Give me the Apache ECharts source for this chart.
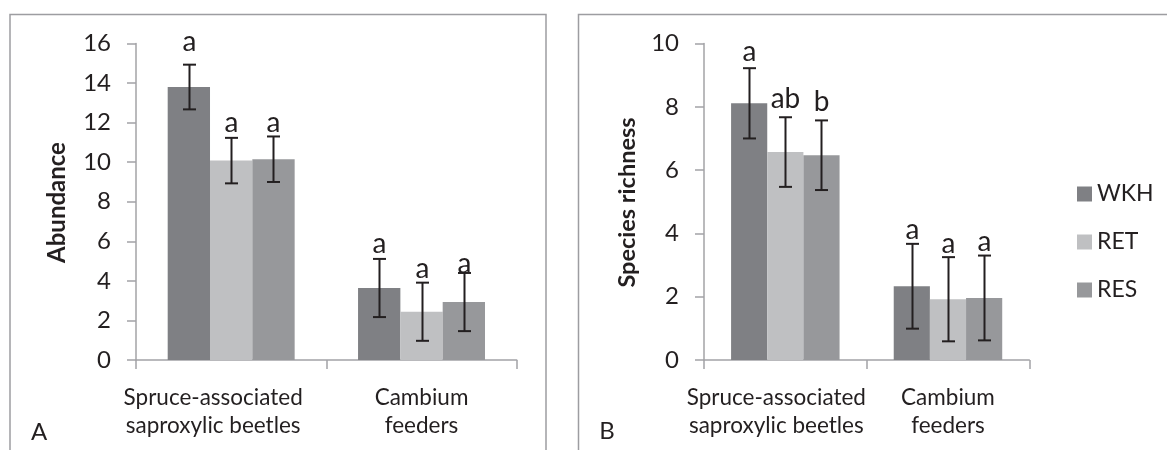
<!DOCTYPE html>
<html>
<head>
<meta charset="utf-8">
<style>
html,body{margin:0;padding:0;background:#fff;}
#chart{width:1167px;height:450px;}
</style>
<script src="https://cdn.jsdelivr.net/npm/echarts@6.0.0/dist/echarts.min.js"></script>
</head>
<body>
<div id="chart"></div>
<script>
// ---- data ----
const categories = ['Spruce-associated\nsaproxylic beetles', 'Cambium\nfeeders'];
const seriesNames = ['WKH', 'RET', 'RES'];
const abundanceTicks = [0, 2, 4, 6, 8, 10, 12, 14, 16];
const richnessTicks = [0, 2, 4, 6, 8, 10];

// Panel A: Abundance
const abundWKH = [13.8, 3.64];
const abundRET = [10.08, 2.44];
const abundRES = [10.15, 2.93];
const abundErrWKH = [1.13, 1.47];
const abundErrRET = [1.15, 1.47];
const abundErrRES = [1.15, 1.47];
const abundLettersWKH = ['a', 'a'];
const abundLettersRET = ['a', 'a'];
const abundLettersRES = ['a', 'a'];
const abundLetterPosWKH = [15.93, 5.71];
const abundLetterPosRET = [11.83, 4.46];
const abundLetterPosRES = [11.83, 4.70];

// Panel B: Species richness
const richWKH = [8.11, 2.33];
const richRET = [6.57, 1.92];
const richRES = [6.47, 1.96];
const richErrWKH = [1.11, 1.34];
const richErrRET = [1.10, 1.33];
const richErrRES = [1.10, 1.34];
const richLettersWKH = ['a', 'a'];
const richLettersRET = ['ab', 'a'];
const richLettersRES = ['b', 'a'];
const richLetterPosWKH = [9.63, 4.02];
const richLetterPosRET = [8.14, 3.58];
const richLetterPosRES = [8.07, 3.64];

// ---- styling ----
const FONT = 'Lato';
const colors = ['#7f8084', '#bfc0c2', '#97989b'];
const axisGray = '#a3a3a6';
const textColor = '#231f20';
const CAT_GAP = 0.333;

const chart = echarts.init(document.getElementById('chart'), null, {renderer: 'canvas'});

function makeErrSeries(gridIdx, sIdx, vals, errs, letters, lpos) {
  return {
    type: 'custom',
    name: 'err' + seriesNames[sIdx] + gridIdx,
    xAxisIndex: gridIdx, yAxisIndex: gridIdx,
    z: 10, clip: false, silent: true,
    data: vals.map((v, i) => [i, v, errs[i], lpos[i]]),
    renderItem: function (params, api) {
      const cat = api.value(0), v = api.value(1), e = api.value(2), lp = api.value(3);
      const cw = api.size([1, 0])[0];
      const bw = cw * (1 - CAT_GAP) / 3;
      const off = (sIdx - 1) * bw;
      const top = api.coord([cat, v + e]);
      const bot = api.coord([cat, v - e]);
      const lpt = api.coord([cat, lp]);
      const x = Math.round(top[0] + off) + 0.5;
      const cap = 6.5;
      const ls = {stroke: textColor, lineWidth: 2};
      return {
        type: 'group',
        children: [
          {type: 'line', shape: {x1: x, y1: top[1], x2: x, y2: bot[1]}, style: ls},
          {type: 'line', shape: {x1: x - cap, y1: top[1], x2: x + cap, y2: top[1]}, style: ls},
          {type: 'line', shape: {x1: x - cap, y1: bot[1], x2: x + cap, y2: bot[1]}, style: ls},
          {type: 'text', x: x, y: lpt[1] - 3,
            style: {text: letters[params.dataIndex], fill: textColor, font: '28px ' + FONT,
              align: 'center', verticalAlign: 'middle'}}
        ]
      };
    }
  };
}

function barSeries(gridIdx, sIdx, vals) {
  return {
    type: 'bar', name: seriesNames[sIdx],
    xAxisIndex: gridIdx, yAxisIndex: gridIdx,
    data: vals,
    barGap: '0%', barCategoryGap: (CAT_GAP * 100) + '%',
    itemStyle: {color: colors[sIdx]},
    silent: true
  };
}

function xAxisCfg(gridIdx, shift) {
  return {
    type: 'category', gridIndex: gridIdx, data: categories,
    axisLine: {lineStyle: {color: axisGray, width: 1.5}},
    axisTick: {show: true, length: 9, lineStyle: {color: axisGray, width: 1.5}},
    axisLabel: {
      interval: 0, margin: 23,
      formatter: function (value, idx) {
        const key = idx === 0 ? 's' : 'c';
        return value.split('\n').map(l => '{' + key + '|' + l + '}').join('\n');
      },
      rich: {
        s: {fontFamily: FONT, fontSize: 22.5, lineHeight: 28.5, color: textColor, padding: [0, shift, 0, 0]},
        c: {fontFamily: FONT, fontSize: 22.5, lineHeight: 28.5, color: textColor}
      }
    }
  };
}

function yAxisCfg(gridIdx, ticks) {
  return {
    type: 'value', gridIndex: gridIdx,
    min: ticks[0], max: ticks[ticks.length - 1], interval: ticks[1] - ticks[0],
    splitLine: {show: false},
    axisLine: {show: true, lineStyle: {color: axisGray, width: 1.5}},
    axisTick: {show: true, length: 9, lineStyle: {color: axisGray, width: 1.5}},
    axisLabel: {fontFamily: FONT, fontSize: 24, color: textColor, margin: 25}
  };
}

const option = {
  animation: false,
  backgroundColor: '#ffffff',
  grid: [
    {left: 136, right: 1167 - 516.7, top: 43.5, bottom: 90},
    {left: 704, right: 1167 - 1029.3, top: 43.5, bottom: 90}
  ],
  xAxis: [xAxisCfg(0, 36), xAxisCfg(1, 18)],
  yAxis: [yAxisCfg(0, abundanceTicks), yAxisCfg(1, richnessTicks)],
  legend: {
    data: seriesNames, orient: 'vertical',
    left: 1072, top: 177.5, itemWidth: 15, itemHeight: 15, itemGap: 25,
    icon: 'rect',
    textStyle: {fontFamily: FONT, fontSize: 23, lineHeight: 23, color: textColor},
    selectedMode: false
  },
  graphic: [
    {type: 'rect', shape: {x: 10, y: 14.5, width: 536, height: 500},
      style: {fill: 'none', stroke: '#9d9da1', lineWidth: 1.5}, silent: true},
    {type: 'rect', shape: {x: 578.5, y: 14.5, width: 700, height: 500},
      style: {fill: 'none', stroke: '#9d9da1', lineWidth: 1.5}, silent: true},
    {type: 'text', x: 57, y: 202.5, rotation: Math.PI / 2,
      style: {text: 'Abundance', font: 'bold 24px ' + FONT, fill: textColor, align: 'center', verticalAlign: 'middle'}},
    {type: 'text', x: 627, y: 202.5, rotation: Math.PI / 2,
      style: {text: 'Species richness', font: 'bold 23.5px ' + FONT, fill: textColor, align: 'center', verticalAlign: 'middle'}},
    {type: 'text', x: 39, y: 432.7,
      style: {text: 'A', font: '24px ' + FONT, fill: textColor, align: 'center', verticalAlign: 'middle'}},
    {type: 'text', x: 607, y: 431,
      style: {text: 'B', font: '24px ' + FONT, fill: textColor, align: 'center', verticalAlign: 'middle'}}
  ],
  series: [
    barSeries(0, 0, abundWKH), barSeries(0, 1, abundRET), barSeries(0, 2, abundRES),
    barSeries(1, 0, richWKH), barSeries(1, 1, richRET), barSeries(1, 2, richRES),
    makeErrSeries(0, 0, abundWKH, abundErrWKH, abundLettersWKH, abundLetterPosWKH),
    makeErrSeries(0, 1, abundRET, abundErrRET, abundLettersRET, abundLetterPosRET),
    makeErrSeries(0, 2, abundRES, abundErrRES, abundLettersRES, abundLetterPosRES),
    makeErrSeries(1, 0, richWKH, richErrWKH, richLettersWKH, richLetterPosWKH),
    makeErrSeries(1, 1, richRET, richErrRET, richLettersRET, richLetterPosRET),
    makeErrSeries(1, 2, richRES, richErrRES, richLettersRES, richLetterPosRES)
  ]
};
chart.setOption(option);
</script>
</body>
</html>
